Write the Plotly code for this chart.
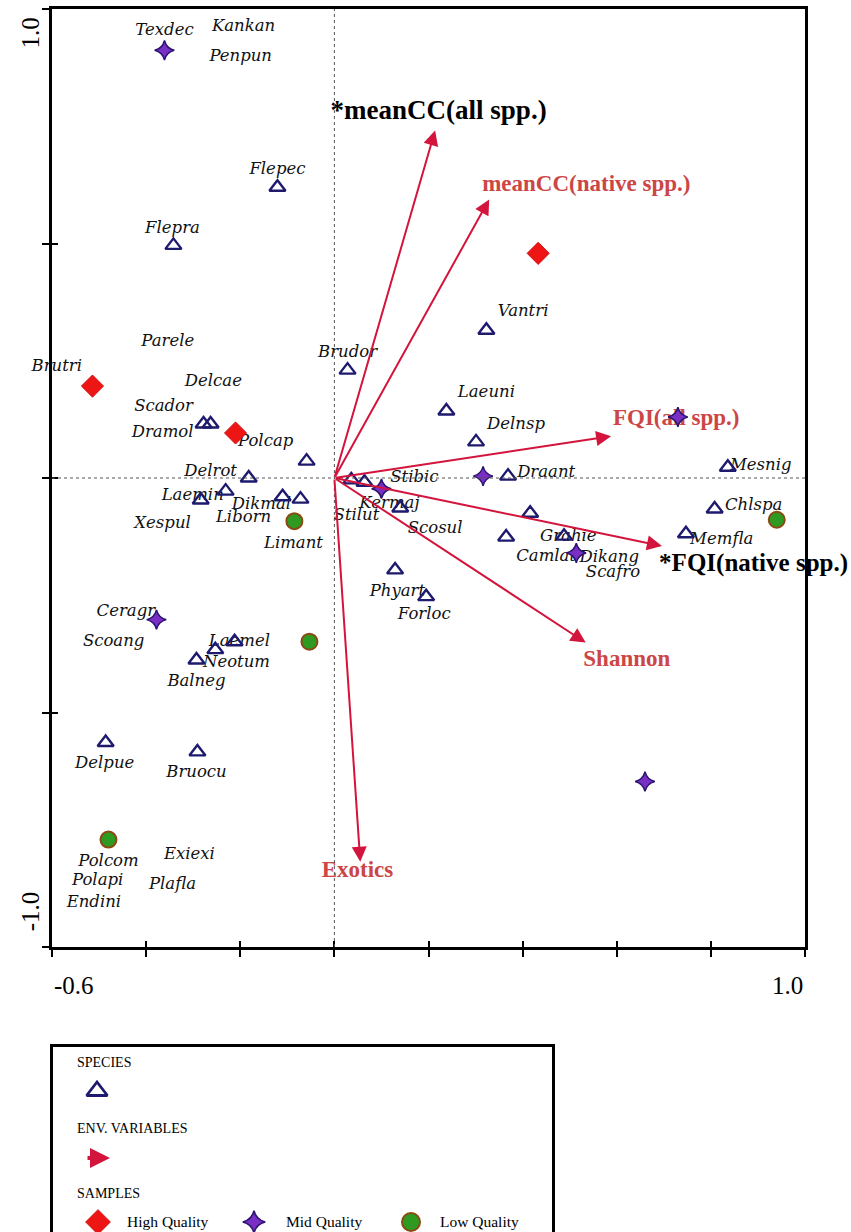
import plotly.graph_objects as go

# ---------------------------------------------------------------
# CCA biplot: species, samples and environmental variable vectors
# ---------------------------------------------------------------

# Species scores (axis 1, axis 2)
species_x = [-0.121, -0.342, 0.323, 0.028, 0.238, 0.301, -0.278, -0.263, -0.059,
             -0.182, -0.231, -0.284, -0.110, -0.072, 0.369, 0.836, 0.808, 0.747,
             0.416, 0.365, 0.488, 0.036, 0.064, 0.140, 0.129, 0.195, -0.212,
             -0.253, -0.293, -0.486, -0.291]
species_y = [0.620, 0.496, 0.315, 0.230, 0.143, 0.077, 0.115, 0.115, 0.036,
             0.000, -0.028, -0.047, -0.040, -0.045, 0.004, 0.023, -0.066, -0.119,
             -0.075, -0.126, -0.124, -0.004, -0.009, -0.064, -0.196, -0.253, -0.349,
             -0.366, -0.388, -0.564, -0.584]

# Species name labels and their placement in ordination units
label_names = ["Texdec", "Kankan", "Penpun", "Flepec", "Flepra", "Parele", "Brutri",
               "Delcae", "Scador", "Dramol", "Polcap", "Brudor", "Vantri", "Laeuni",
               "Delnsp", "Delrot", "Laemin", "Xespul", "Dikmal", "Liborn", "Limant",
               "Stibic", "Kermaj", "Stilut", "Scosul", "Draant", "Mesnig", "Chlspa",
               "Memfla", "Grahie", "Camlat", "Dikang", "Scafro", "Phyart", "Forloc",
               "Ceragr", "Scoang", "Laemel", "Neotum", "Balneg", "Delpue", "Bruocu",
               "Polcom", "Exiexi", "Polapi", "Plafla", "Endini"]
label_x = [-0.361, -0.193, -0.199, -0.121, -0.344, -0.354, -0.590,
           -0.257, -0.363, -0.365, -0.146, 0.028, 0.401, 0.323,
           0.386, -0.263, -0.301, -0.365, -0.155, -0.193, -0.087,
           0.170, 0.117, 0.047, 0.214, 0.450, 0.906, 0.891,
           0.823, 0.497, 0.450, 0.584, 0.592, 0.134, 0.191,
           -0.443, -0.469, -0.202, -0.208, -0.293, -0.488, -0.293,
           -0.480, -0.308, -0.503, -0.344, -0.511]
label_y = [0.954, 0.961, 0.897, 0.656, 0.532, 0.290, 0.236,
           0.204, 0.151, 0.096, 0.076, 0.266, 0.354, 0.181,
           0.113, 0.013, -0.038, -0.098, -0.058, -0.085, -0.141,
           0.000, -0.055, -0.081, -0.109, 0.011, 0.026, -0.060,
           -0.132, -0.126, -0.168, -0.170, -0.202, -0.243, -0.292,
           -0.285, -0.349, -0.349, -0.394, -0.435, -0.609, -0.628,
           -0.818, -0.803, -0.860, -0.867, -0.905]

# Sample scores grouped by quality class
high_x = [0.433, -0.514, -0.210]
high_y = [0.479, 0.196, 0.096]
mid_x = [-0.361, 0.730, 0.316, 0.100, 0.514, -0.378, 0.660]
mid_y = [0.912, 0.130, 0.004, -0.023, -0.160, -0.302, -0.647]
low_x = [-0.085, -0.053, 0.940, -0.480]
low_y = [-0.092, -0.349, -0.089, -0.771]

# Environmental variable vectors (arrow tips) and label anchors
env_names = ["*meanCC(all spp.)", "meanCC(native spp.)", "FQI(all spp.)",
             "*FQI(native spp.)", "Shannon", "Exotics"]
env_x = [0.214, 0.329, 0.588, 0.696, 0.534, 0.055]
env_y = [0.741, 0.594, 0.089, -0.145, -0.351, -0.818]
env_label_x = [-0.008, 0.314, 0.592, 0.690, 0.529, -0.027]
env_label_y = [0.780, 0.624, 0.126, -0.185, -0.388, -0.839]
env_label_size = [27, 23, 23, 25, 23, 23]

# Axis ticks
x_ticks = [-0.6, -0.4, -0.2, 0.0, 0.2, 0.4, 0.6, 0.8, 1.0]
y_ticks = [-1.0, -0.5, 0.0, 0.5, 1.0]

# Styling
W, H = 851, 1232
ARROW_RED = "#d3143c"
LABEL_RED = "#cc4646"
NAVY = "#1e1a6e"
SERIF = "Liberation Serif, Times New Roman, serif"
ITALIC_FONT = "DejaVu Serif, serif"

# Pixel geometry of the ordination frame and the key box
plot_l, plot_r, plot_t, plot_b = 52, 805, 9, 947
key_l, key_r, key_t = 40, 565, 1032

fig = go.Figure()

# Species name labels (drawn first so markers sit on top)
fig.add_trace(go.Scatter(
    x=label_x, y=label_y, mode="text", text=label_names,
    textposition="middle center", cliponaxis=False, hoverinfo="skip",
    textfont=dict(family=ITALIC_FONT, size=16.5, color="#111111", style="italic"),
    showlegend=False))

# Environmental variable names: starred ones in black, the rest in red
red_idx = [i for i, n in enumerate(env_names) if not n.startswith("*")]
blk_idx = [i for i, n in enumerate(env_names) if n.startswith("*")]
for idx, colour in [(red_idx, LABEL_RED), (blk_idx, "#000000")]:
    fig.add_trace(go.Scatter(
        x=[env_label_x[i] for i in idx], y=[env_label_y[i] for i in idx],
        mode="text", text=[env_names[i] for i in idx],
        textposition="middle right", cliponaxis=False, hoverinfo="skip",
        textfont=dict(family=SERIF, size=[env_label_size[i] for i in idx],
                      color=colour, weight="bold"),
        showlegend=False))

# Species markers
fig.add_trace(go.Scatter(
    x=species_x, y=species_y, mode="markers", cliponaxis=False,
    marker=dict(symbol="triangle-up-open", size=14, color=NAVY,
                line=dict(width=2.4, color=NAVY)),
    showlegend=False))

# Sample markers
fig.add_trace(go.Scatter(
    x=high_x, y=high_y, mode="markers",
    marker=dict(symbol="diamond", size=17, color="#ee1515",
                line=dict(width=1, color="#d01010")),
    showlegend=False))
fig.add_trace(go.Scatter(
    x=mid_x, y=mid_y, mode="markers",
    marker=dict(symbol="star-diamond", size=14, color="#7a2fc4",
                line=dict(width=1.5, color="#2a1470")),
    showlegend=False))
fig.add_trace(go.Scatter(
    x=low_x, y=low_y, mode="markers",
    marker=dict(symbol="circle", size=16, color="#2f9a22",
                line=dict(width=2, color="#8b4a14")),
    showlegend=False))

# Empty trace so the overlaid tick axes are drawn
fig.add_trace(go.Scatter(x=[None], y=[None], xaxis="x2", yaxis="y2",
                         showlegend=False, hoverinfo="skip"))

# Environmental vectors as arrows from the origin
for ex, ey in zip(env_x, env_y):
    fig.add_annotation(x=ex, y=ey, ax=0, ay=0, xref="x", yref="y",
                       axref="x", ayref="y", showarrow=True, text="",
                       arrowhead=2, arrowsize=1.5, arrowwidth=2,
                       arrowcolor=ARROW_RED, standoff=0)

# Dotted reference lines through the origin
fig.add_vline(x=0, line=dict(color="#555555", width=1, dash="dot"))
fig.add_hline(y=0, line=dict(color="#555555", width=1, dash="dot"))

# End-of-axis value labels
axis_font = dict(family=SERIF, size=25, color="#000000")
fig.add_annotation(x=x_ticks[0], y=(H - 985) / H, xref="x", yref="paper",
                   text="-0.6", showarrow=False, xanchor="left", yanchor="middle",
                   font=axis_font)
fig.add_annotation(x=x_ticks[-1], y=(H - 985) / H, xref="x", yref="paper",
                   text="1.0", showarrow=False, xanchor="right", yanchor="middle",
                   font=axis_font)
fig.add_annotation(x=30 / W, y=0.948, xref="paper", yref="y",
                   text="1.0", showarrow=False, textangle=-90,
                   xanchor="center", yanchor="middle", font=axis_font)
fig.add_annotation(x=30 / W, y=-0.924, xref="paper", yref="y",
                   text="-1.0", showarrow=False, textangle=-90,
                   xanchor="center", yanchor="middle", font=axis_font)

# ---------------- key box (own pixel-unit axes) ----------------
key_font = dict(family=SERIF, size=14, color="#000000")
for txt, ky in [("SPECIES", 1062), ("ENV. VARIABLES", 1128), ("SAMPLES", 1193)]:
    fig.add_annotation(x=75, y=ky, xref="x3", yref="y3", text=txt,
                       showarrow=False, xanchor="left", yanchor="middle",
                       font=key_font)
for txt, kx in [("High Quality", 125), ("Mid Quality", 284), ("Low Quality", 438)]:
    fig.add_annotation(x=kx, y=1221, xref="x3", yref="y3", text=txt,
                       showarrow=False, xanchor="left", yanchor="middle",
                       font=dict(family=SERIF, size=15.5, color="#000000"))

fig.add_trace(go.Scatter(
    x=[97], y=[1091], xaxis="x3", yaxis="y3", mode="markers", cliponaxis=False,
    marker=dict(symbol="triangle-up-open", size=18, color=NAVY,
                line=dict(width=2.8, color=NAVY)), showlegend=False))
fig.add_trace(go.Scatter(
    x=[98], y=[1222], xaxis="x3", yaxis="y3", mode="markers", cliponaxis=False,
    marker=dict(symbol="diamond", size=19, color="#ee1515",
                line=dict(width=1, color="#d01010")), showlegend=False))
fig.add_trace(go.Scatter(
    x=[254], y=[1222], xaxis="x3", yaxis="y3", mode="markers", cliponaxis=False,
    marker=dict(symbol="star-diamond", size=16, color="#7a2fc4",
                line=dict(width=1.5, color="#2a1470")), showlegend=False))
fig.add_trace(go.Scatter(
    x=[411], y=[1222], xaxis="x3", yaxis="y3", mode="markers", cliponaxis=False,
    marker=dict(symbol="circle", size=18, color="#2f9a22",
                line=dict(width=2, color="#8b4a14")), showlegend=False))
fig.add_annotation(x=110, y=1158, ax=86, ay=1158, xref="x3", yref="y3",
                   axref="x3", ayref="y3", showarrow=True, text="",
                   arrowhead=2, arrowsize=1.0, arrowwidth=4,
                   arrowcolor=ARROW_RED, standoff=0)
fig.add_shape(type="rect", xref="x3", yref="y3", x0=51.5, x1=553.5,
              y0=1045.5, y1=1245, line=dict(color="#000000", width=3),
              fillcolor="rgba(0,0,0,0)")

# ---------------- axes ----------------
xdom = [plot_l / W, plot_r / W]
ydom = [(H - plot_b) / H, (H - plot_t) / H]

common = dict(showgrid=False, zeroline=False)
fig.update_layout(
    width=W, height=H,
    margin=dict(l=0, r=0, t=0, b=0),
    paper_bgcolor="white", plot_bgcolor="white",
    showlegend=False,
    xaxis=dict(domain=xdom, range=[-0.6, 1.0], anchor="y",
               tickvals=x_ticks, ticks="outside", ticklen=7, tickwidth=2,
               tickcolor="black", showticklabels=False,
               showline=True, linecolor="black", linewidth=3, mirror=True,
               **common),
    yaxis=dict(domain=ydom, range=[-1.0, 1.0], anchor="x",
               tickvals=y_ticks, ticks="outside", ticklen=7, tickwidth=2,
               tickcolor="black", showticklabels=False,
               showline=True, linecolor="black", linewidth=3, mirror=True,
               **common),
    xaxis2=dict(domain=xdom, range=[-0.6, 1.0], overlaying="x", anchor="y2",
                side="bottom", tickvals=x_ticks, ticks="inside", ticklen=6,
                tickwidth=2, tickcolor="black", showticklabels=False,
                showline=False, **common),
    yaxis2=dict(domain=ydom, range=[-1.0, 1.0], overlaying="y", anchor="x2",
                side="left", tickvals=y_ticks, ticks="inside", ticklen=6,
                tickwidth=2, tickcolor="black", showticklabels=False,
                showline=False, **common),
    xaxis3=dict(domain=[key_l / W, key_r / W], range=[key_l, key_r],
                anchor="y3", visible=False, **common),
    yaxis3=dict(domain=[0, (H - key_t) / H], range=[H, key_t],
                anchor="x3", visible=False, **common),
)

fig.write_html("out.html")
